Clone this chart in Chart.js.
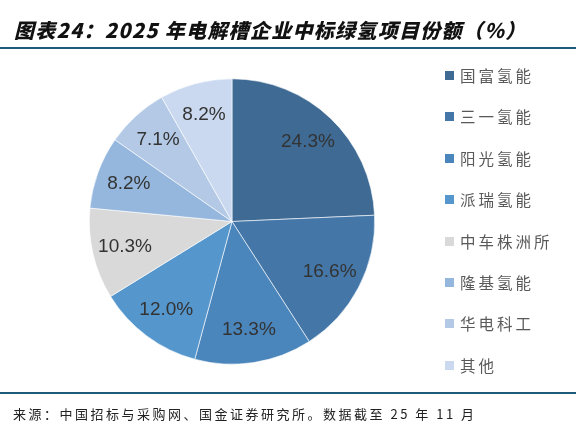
<!DOCTYPE html>
<html><head><meta charset="utf-8">
<script src="https://cdn.jsdelivr.net/npm/chart.js@4.4.0/dist/chart.umd.min.js"></script>
<style>
html,body{margin:0;padding:0;background:#fff;width:580px;height:433px;overflow:hidden;}
#wrap{position:relative;width:580px;height:433px;}
#c{position:absolute;left:0;top:0;}
#title{position:absolute;left:14px;top:18px;font-family:"Noto Sans CJK SC","Liberation Sans",sans-serif;font-weight:900;font-style:italic;font-size:20px;line-height:24px;color:#111;white-space:nowrap;letter-spacing:1.3px;}
#tline{position:absolute;left:0;top:47px;width:576px;height:2px;background:#1d5b78;}
#fline{position:absolute;left:0;top:392px;width:576px;height:1.5px;background:#1d5b78;}
#foot{position:absolute;left:13px;top:405px;font-family:"Noto Sans CJK SC","Liberation Sans",sans-serif;font-size:13px;line-height:18px;color:#222;white-space:nowrap;letter-spacing:2.5px;}
#legend{position:absolute;left:445px;top:0;font-family:"Noto Sans CJK SC",sans-serif;}
.li{position:absolute;left:0;width:130px;height:20px;white-space:nowrap;}
.sw{position:absolute;left:0;top:6px;width:9px;height:9px;}
.lt{position:absolute;left:15px;top:-1px;font-size:15.5px;line-height:22px;color:#595959;letter-spacing:3px;}
</style></head>
<body><div id="wrap">
<canvas id="c" width="580" height="433"></canvas>
<div id="title">图表24：2025 年电解槽企业中标绿氢项目份额（%）</div>
<div id="tline"></div>
<div id="legend"></div>
<div id="fline"></div>
<div id="foot">来源：中国招标与采购网、国金证券研究所。数据截至 25 年 11 月</div>
</div>
<script>
const categories = ["国富氢能","三一氢能","阳光氢能","派瑞氢能","中车株洲所","隆基氢能","华电科工","其他"];
const shares = [24.3,16.6,13.3,12.0,10.3,8.2,7.1,8.2];
const colors = ["#3e6a94","#4477a8","#4a85bb","#5596cc","#d9d9d9","#95b7dd","#b3c9e6","#cad9ef"];

// HTML legend built from arrays
const lg = document.getElementById('legend');
categories.forEach((name,i)=>{
  const d=document.createElement('div');d.className='li';d.style.top=(65+i*41.4)+'px';
  const s=document.createElement('div');s.className='sw';s.style.background=colors[i];
  const t=document.createElement('div');t.className='lt';t.textContent=name;
  d.appendChild(s);d.appendChild(t);lg.appendChild(d);
});

const labelPlugin = {
  id:'sliceLabels',
  afterDatasetsDraw(chart){
    const ctx=chart.ctx;const meta=chart.getDatasetMeta(0);
    ctx.save();
    ctx.font='19px "Liberation Sans", Arial, sans-serif';
    ctx.fillStyle='#333';ctx.textAlign='center';ctx.textBaseline='middle';
    meta.data.forEach((arc,i)=>{
      const p=arc.getProps(['x','y','startAngle','endAngle','outerRadius'],true);
      const mid=(p.startAngle+p.endAngle)/2;
      const r=p.outerRadius*0.77;
      ctx.fillText(shares[i].toFixed(1)+'%', p.x+Math.cos(mid)*r, p.y+Math.sin(mid)*r);
    });
    ctx.restore();
  }
};

new Chart(document.getElementById('c'),{
  type:'pie',
  data:{labels:categories,datasets:[{data:shares,backgroundColor:colors,borderColor:'#ffffff',borderWidth:0.6}]},
  options:{
    responsive:false,animation:false,
    layout:{padding:{left:89,right:205,top:78,bottom:68}},
    plugins:{legend:{display:false},tooltip:{enabled:false}}
  },
  plugins:[labelPlugin]
});
</script>
</body></html>
